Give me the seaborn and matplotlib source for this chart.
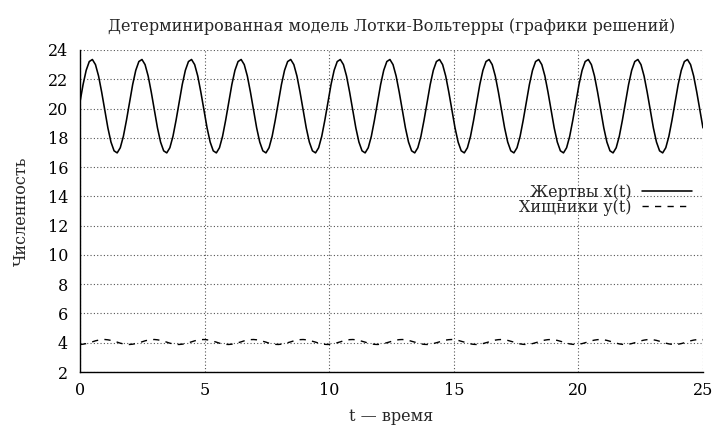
import numpy as np
import pandas as pd
import matplotlib
matplotlib.use("Agg")
import matplotlib.pyplot as plt
import seaborn as sns

# time grid of the solution, 0..25
t = np.linspace(0, 25, 202)

# prey x(t)
prey = [
    20.44, 21.64, 22.61, 23.21, 23.35, 23.00, 22.22, 21.12, 19.88, 18.68, 17.71, 17.11, 16.97, 17.32, 18.10, 19.20,
    20.44, 21.64, 22.61, 23.21, 23.35, 23.00, 22.22, 21.12, 19.88, 18.68, 17.71, 17.11, 16.97, 17.32, 18.10, 19.20,
    20.44, 21.64, 22.61, 23.21, 23.35, 23.00, 22.22, 21.12, 19.88, 18.68, 17.71, 17.11, 16.97, 17.32, 18.10, 19.20,
    20.44, 21.64, 22.61, 23.21, 23.35, 23.00, 22.22, 21.12, 19.88, 18.68, 17.71, 17.11, 16.97, 17.32, 18.10, 19.20,
    20.44, 21.64, 22.61, 23.21, 23.35, 23.00, 22.22, 21.12, 19.88, 18.68, 17.71, 17.11, 16.97, 17.32, 18.10, 19.20,
    20.44, 21.64, 22.61, 23.21, 23.35, 23.00, 22.22, 21.12, 19.88, 18.68, 17.71, 17.11, 16.97, 17.32, 18.10, 19.20,
    20.44, 21.64, 22.61, 23.21, 23.35, 23.00, 22.22, 21.12, 19.88, 18.68, 17.71, 17.11, 16.97, 17.32, 18.10, 19.20,
    20.44, 21.64, 22.61, 23.21, 23.35, 23.00, 22.22, 21.12, 19.88, 18.68, 17.71, 17.11, 16.97, 17.32, 18.10, 19.20,
    20.44, 21.64, 22.61, 23.21, 23.35, 23.00, 22.22, 21.12, 19.88, 18.68, 17.71, 17.11, 16.97, 17.32, 18.10, 19.20,
    20.44, 21.64, 22.61, 23.21, 23.35, 23.00, 22.22, 21.12, 19.88, 18.68, 17.71, 17.11, 16.97, 17.32, 18.10, 19.20,
    20.44, 21.64, 22.61, 23.21, 23.35, 23.00, 22.22, 21.12, 19.88, 18.68, 17.71, 17.11, 16.97, 17.32, 18.10, 19.20,
    20.44, 21.64, 22.61, 23.21, 23.35, 23.00, 22.22, 21.12, 19.88, 18.68, 17.71, 17.11, 16.97, 17.32, 18.10, 19.20,
    20.44, 21.64, 22.61, 23.21, 23.35, 23.00, 22.22, 21.12, 19.88, 18.68,
]

# predator y(t)
predator = [
    3.88, 3.90, 3.94, 4.00, 4.06, 4.13, 4.18, 4.21, 4.22, 4.20, 4.16, 4.10, 4.04, 3.97, 3.92, 3.89,
    3.88, 3.90, 3.94, 4.00, 4.06, 4.13, 4.18, 4.21, 4.22, 4.20, 4.16, 4.10, 4.04, 3.97, 3.92, 3.89,
    3.88, 3.90, 3.94, 4.00, 4.06, 4.13, 4.18, 4.21, 4.22, 4.20, 4.16, 4.10, 4.04, 3.97, 3.92, 3.89,
    3.88, 3.90, 3.94, 4.00, 4.06, 4.13, 4.18, 4.21, 4.22, 4.20, 4.16, 4.10, 4.04, 3.97, 3.92, 3.89,
    3.88, 3.90, 3.94, 4.00, 4.06, 4.13, 4.18, 4.21, 4.22, 4.20, 4.16, 4.10, 4.04, 3.97, 3.92, 3.89,
    3.88, 3.90, 3.94, 4.00, 4.06, 4.13, 4.18, 4.21, 4.22, 4.20, 4.16, 4.10, 4.04, 3.97, 3.92, 3.89,
    3.88, 3.90, 3.94, 4.00, 4.06, 4.13, 4.18, 4.21, 4.22, 4.20, 4.16, 4.10, 4.04, 3.97, 3.92, 3.89,
    3.88, 3.90, 3.94, 4.00, 4.06, 4.13, 4.18, 4.21, 4.22, 4.20, 4.16, 4.10, 4.04, 3.97, 3.92, 3.89,
    3.88, 3.90, 3.94, 4.00, 4.06, 4.13, 4.18, 4.21, 4.22, 4.20, 4.16, 4.10, 4.04, 3.97, 3.92, 3.89,
    3.88, 3.90, 3.94, 4.00, 4.06, 4.13, 4.18, 4.21, 4.22, 4.20, 4.16, 4.10, 4.04, 3.97, 3.92, 3.89,
    3.88, 3.90, 3.94, 4.00, 4.06, 4.13, 4.18, 4.21, 4.22, 4.20, 4.16, 4.10, 4.04, 3.97, 3.92, 3.89,
    3.88, 3.90, 3.94, 4.00, 4.06, 4.13, 4.18, 4.21, 4.22, 4.20, 4.16, 4.10, 4.04, 3.97, 3.92, 3.89,
    3.88, 3.90, 3.94, 4.00, 4.06, 4.13, 4.18, 4.21, 4.22, 4.20,
]

x_ticks = [0, 5, 10, 15, 20, 25]
y_ticks = [2, 4, 6, 8, 10, 12, 14, 16, 18, 20, 22, 24]

sns.set_style("white")
plt.rcParams['font.family'] = ['DejaVu Serif']
plt.rcParams['font.size'] = 11.5

fig = plt.figure(figsize=(7.16, 4.25), dpi=100)
ax = fig.add_axes([0.1117, 0.1247, 0.8701, 0.7577])

df = pd.DataFrame({'t': t, 'prey': prey, 'predator': predator})
sns.lineplot(data=df, x='t', y='prey', ax=ax, color='black', lw=1.15,
             label='Жертвы x(t)')
sns.lineplot(data=df, x='t', y='predator', ax=ax, color='black', lw=1.0,
             linestyle=(0, (4.5, 4.5)), label='Хищники y(t)')

ax.set_xlim(0, 25)
ax.set_ylim(2, 24)
ax.set_xticks(x_ticks)
ax.set_yticks(y_ticks)
ax.grid(True, color='#555555', linestyle=(0, (1, 2)), lw=0.8)
for s in ['top', 'right']:
    ax.spines[s].set_visible(False)
for s in ['left', 'bottom']:
    ax.spines[s].set_color('black')
    ax.spines[s].set_linewidth(1.0)
ax.tick_params(direction='in', length=5, width=0.8, colors='black')
ax.tick_params(axis='y', pad=8.5)
ax.tick_params(axis='x', pad=7)

ax.set_xlabel('t — время', labelpad=7)
ax.set_ylabel('Численность', labelpad=13)
ax.set_title('Детерминированная модель Лотки-Вольтерры (графики решений)',
             fontsize=11.5, pad=14)

ax.legend(loc='center right', bbox_to_anchor=(0.992, 0.535), frameon=False,
          markerfirst=False, handlelength=3.1, handletextpad=0.65,
          labelspacing=-0.1, borderaxespad=0)

fig.savefig('out.png', dpi=100)
